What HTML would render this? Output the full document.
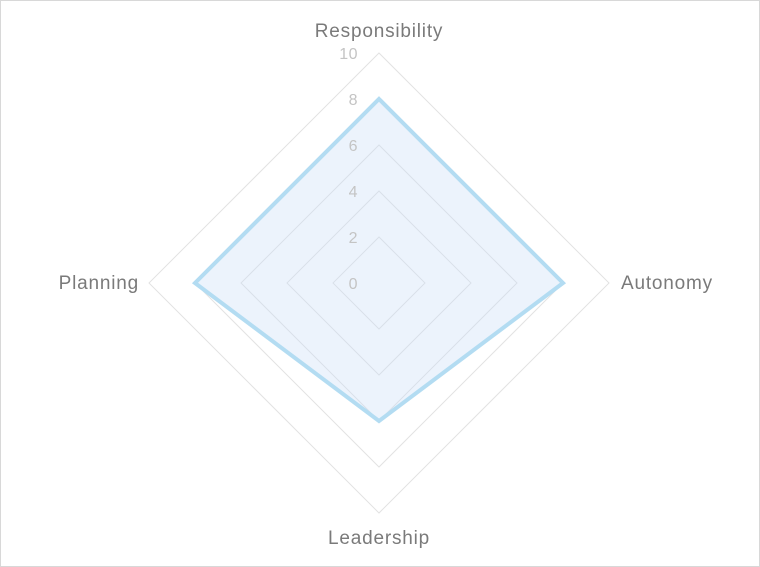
<!DOCTYPE html>
<html><head><meta charset="utf-8"><style>
body{margin:0;background:#fff;}
svg{display:block;font-family:"Liberation Sans",sans-serif;}
</style></head><body>
<svg id="c" width="760" height="567">
<rect x="0.5" y="0.5" width="759" height="566" fill="#fff" stroke="#d8d8d8"/>
</svg>
<script>
const categories=["Responsibility","Autonomy","Leadership","Planning"];
const values=[8,8,6,8];
const tickLabels=[0,2,4,6,8,10];
const maxVal=10;
const cx=379,cy=283,R=230;
const svg=document.getElementById('c');
const NS='http://www.w3.org/2000/svg';
function pt(i,v){const a=-Math.PI/2+i*2*Math.PI/categories.length;const r=v/maxVal*R;return [cx+r*Math.cos(a),cy+r*Math.sin(a)];}
function mk(t,attrs){const e=document.createElementNS(NS,t);for(const k in attrs)e.setAttribute(k,attrs[k]);svg.appendChild(e);return e;}
tickLabels.forEach(t=>{
 if(t===0)return;
 const p=categories.map((c,i)=>pt(i,t).join(',')).join(' ');
 const g=mk('polygon',{points:p,fill:'none',stroke:'#e2e2e2','stroke-width':1});
 
 
});
const area=mk('polygon',{points:values.map((v,i)=>pt(i,v).join(',')).join(' '),fill:'rgba(200,220,245,0.35)',stroke:'#b3dcf2','stroke-width':4,'stroke-linejoin':'miter'});


tickLabels.forEach(t=>{
 const [x,y]=pt(0,t);
 const e=mk('text',{x:x-21,y:y+6,'text-anchor':'end','font-size':16,'letter-spacing':0.5,fill:'#c4c4c4'});
 e.textContent=t;
 
 
});
categories.forEach((c,i)=>{
 const [x,y]=pt(i,maxVal);
 let ax='middle',dx=0,dy=6;
 if(i===0){dy=-16;}
 if(i===2){dy=31;}
 if(i===1){ax='start';dx=12;}
 if(i===3){ax='end';dx=-10;}
 const e=mk('text',{x:x+dx,y:y+dy,'text-anchor':ax,'font-size':19,'letter-spacing':0.8,fill:'#7a7a7a'});
 e.textContent=c;
 
 
});
</script>
</body></html>
